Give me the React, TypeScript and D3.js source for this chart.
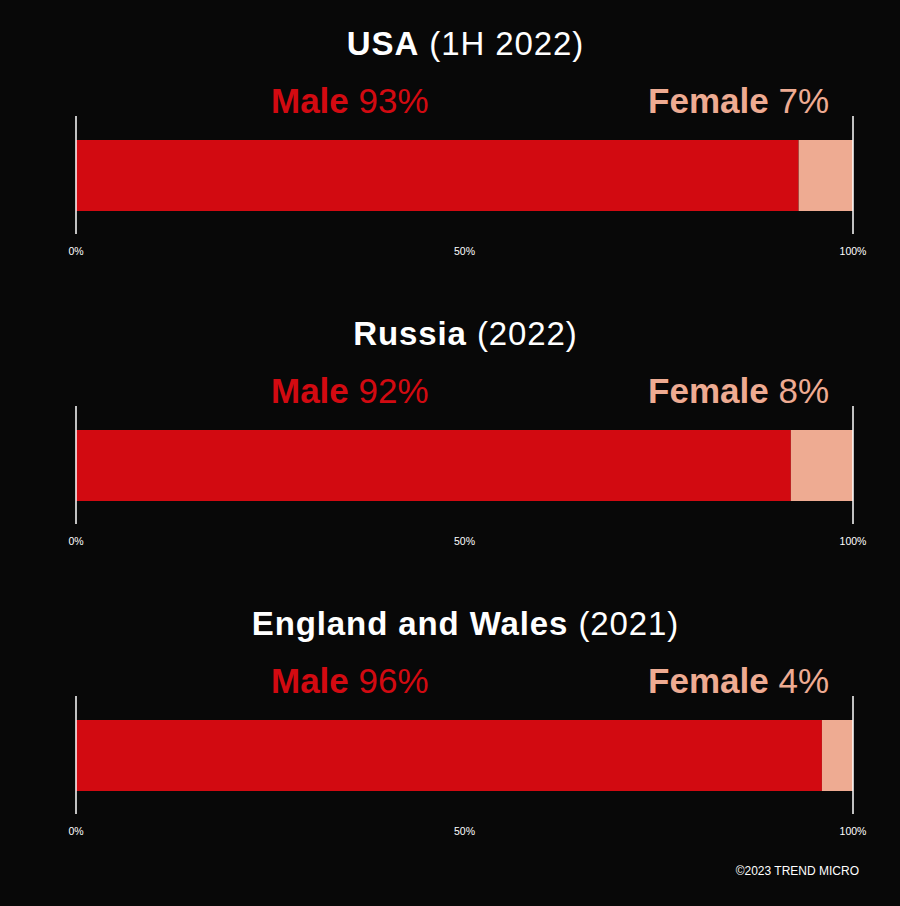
import * as d3 from "d3";

// Share of offenders by gender, per country
const countries = ["USA", "Russia", "England and Wales"];
const periods = ["(1H 2022)", "(2022)", "(2021)"];
const malePct = [93, 92, 96];
const femalePct = [7, 8, 4];
const tickValues = [0, 50, 100];

const W = 900;
const H = 906;
const RED = "#d20a11";
const PEACH = "#eeab92";
const BG = "#080808";
const FONT = "'Liberation Sans', Arial, sans-serif";

export default function App() {
  const x = d3.scaleLinear().domain([0, 100]).range([76, 853]);
  // panel vertical offsets
  const panel = d3.scaleLinear().domain([0, 1]).range([0, 290]);

  return (
    <svg
      width={W}
      height={H}
      style={{ position: "absolute", left: 0, top: 0, background: BG }}
      fontFamily={FONT}
    >
      <rect width={W} height={H} fill={BG} />
      {countries.map((c, i) => {
        const oy = panel(i);
        const m = malePct[i];
        const f = femalePct[i];
        return (
          <g key={c} transform={`translate(0,${oy})`}>
            <text
              x={(x(0) + x(100)) / 2 + 1}
              y={55}
              textAnchor="middle"
              fill="#fff"
              fontSize={33}
              letterSpacing={0.9}
            >
              <tspan fontWeight="bold">{c}</tspan>
              <tspan> {periods[i]}</tspan>
            </text>
            <text x={271} y={113} fill={RED} fontSize={35}>
              <tspan fontWeight="bold">Male</tspan>
              <tspan> {m}%</tspan>
            </text>
            <text
              x={829}
              y={113}
              textAnchor="end"
              fill={PEACH}
              fontSize={35}
            >
              <tspan fontWeight="bold">Female</tspan>
              <tspan> {f}%</tspan>
            </text>
            <rect
              x={x(0)}
              y={140}
              width={x(m) - x(0)}
              height={71}
              fill={RED}
            />
            <rect
              x={x(m)}
              y={140}
              width={x(m + f) - x(m)}
              height={71}
              fill={PEACH}
            />
            {[0, 100].map((v) => (
              <line
                key={v}
                x1={x(v)}
                x2={x(v)}
                y1={116}
                y2={234}
                stroke="#fff"
                strokeWidth={1.5}
              />
            ))}
            {tickValues.map((v) => (
              <text
                key={v}
                x={x(v)}
                y={255}
                textAnchor="middle"
                fill="#fff"
                fontSize={10.5}
              >
                {v}%
              </text>
            ))}
          </g>
        );
      })}
      <text x={859} y={875} textAnchor="end" fill="#fff" fontSize={12}>
        ©2023 TREND MICRO
      </text>
    </svg>
  );
}
